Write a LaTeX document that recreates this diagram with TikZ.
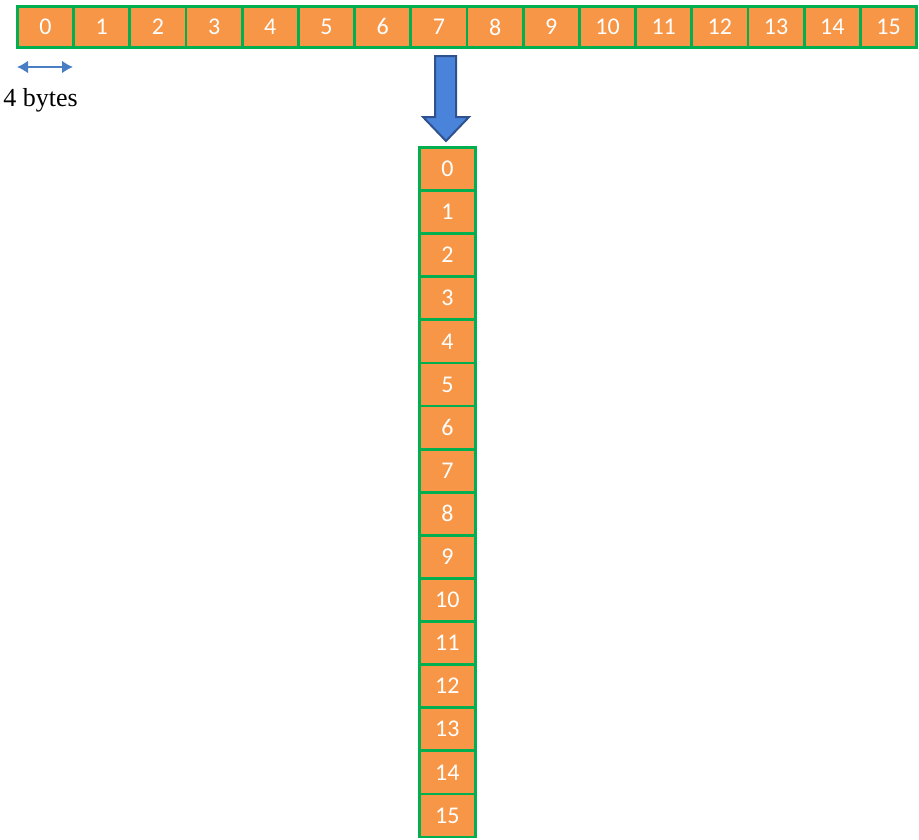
\documentclass[tikz,border=0pt]{standalone}
\usepackage{fontspec}
\setmainfont{Liberation Serif}
\newfontfamily\cellfont{Carlito}
\usetikzlibrary{arrows.meta}
\definecolor{cellorange}{HTML}{F79646}
\definecolor{cellgreen}{HTML}{00B050}
\definecolor{arrowblue}{HTML}{4A84DA}
\definecolor{arrowedge}{HTML}{2F528F}
\definecolor{dimblue}{HTML}{4A7EC4}
\tikzset{
  cell/.style={draw=cellgreen, fill=cellorange, line width=2.8pt, text=white,
    font=\cellfont\fontsize{24}{26}\selectfont, inner sep=0pt, anchor=north west},
  hcell/.style={cell, minimum width=56.2pt, minimum height=41pt},
  vcell/.style={cell, minimum width=56pt, minimum height=43.1pt},
}
\begin{document}
\begin{tikzpicture}[x=1pt, y=-1pt]
\useasboundingbox (0,0) rectangle (919,839);
\foreach \i in {0,...,15} {
  \node[hcell] (t\i) at ({16+\i*56.2}, 5) {\i};
}
\foreach \i in {0,...,15} {
  \node[vcell] (v\i) at (418, {146+\i*43.1}) {\i};
}
% size indicator
\coordinate (dl) at (17,67);
\coordinate (dr) at (73,67);
\draw[dimblue, line width=2.8pt, {Latex[length=11pt,width=13pt]}-{Latex[length=11pt,width=13pt]}] (dl) -- (dr);
\node[font=\fontsize{26}{29}\selectfont, inner sep=0pt] (lbl) at (40.5,100) {4 bytes};
% big arrow
\draw[arrowedge, fill=arrowblue, line width=2pt, line join=miter]
  (435,56) -- (456,56) -- (456,117) -- (469,117) -- (446,141) -- (423,117) -- (435,117) -- cycle;
\end{tikzpicture}
\end{document}
